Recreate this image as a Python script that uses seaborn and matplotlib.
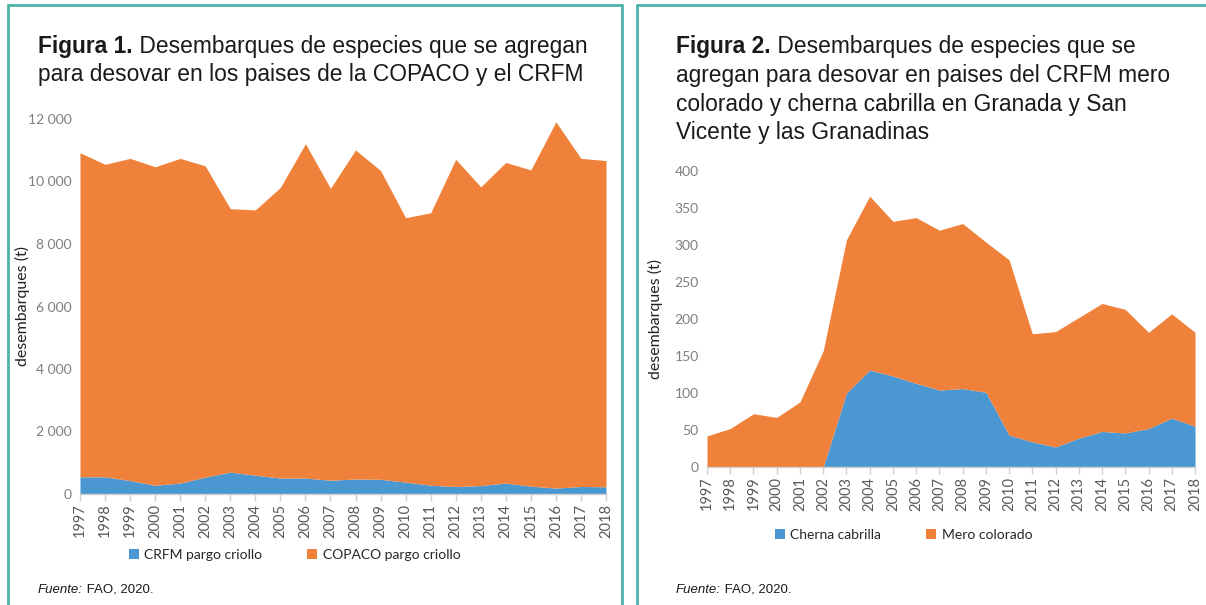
import matplotlib
matplotlib.use("Agg")
import matplotlib.pyplot as plt
from matplotlib.patches import Patch
from matplotlib.lines import Line2D
from matplotlib.ticker import FuncFormatter
import seaborn as sns

# --- data ---
years = list(range(1997, 2019))

# Figura 1 (t)
crfm_pargo = [550, 550, 430, 280, 350, 540, 700, 600, 510, 510, 440,
              480, 470, 380, 280, 240, 270, 350, 250, 190, 240, 230]
total_fig1 = [10920, 10550, 10740, 10470, 10740, 10500, 9130, 9090, 9810, 11210, 9780,
              11010, 10350, 8840, 9000, 10710, 9830, 10610, 10370, 11910, 10740, 10670]
copaco_pargo = [t - c for t, c in zip(total_fig1, crfm_pargo)]

# Figura 2 (t)
cherna = [0, 0, 0, 0, 0, 0, 100, 131, 123, 113, 104,
          106, 101, 43, 34, 27, 39, 48, 46, 52, 66, 55]
total_fig2 = [42, 52, 72, 67, 88, 157, 307, 366, 332, 337, 320,
              329, 304, 280, 180, 183, 202, 221, 213, 182, 207, 182]
mero = [t - c for t, c in zip(total_fig2, cherna)]

labels1 = ["CRFM pargo criollo", "COPACO pargo criollo"]
labels2 = ["Cherna cabrilla", "Mero colorado"]

sns.set_theme(style="white")
plt.rcParams["font.family"] = ["Liberation Sans", "DejaVu Sans"]

BLUE = "#4A97D1"
ORANGE = "#EF813B"
TEAL = "#4DB2A9"
TICKFONT = ["Lato", "DejaVu Sans"]

W, H = 1206, 605
fig = plt.figure(figsize=(W / 100, H / 100), dpi=100)


def fx(px):
    return px / W


def fy(py):
    return 1 - py / H


def space_thousands(v, pos):
    return f"{int(v):,}".replace(",", " ")


def make_panel(x0, x1, ytop, ybot, series, labels, ymax, ystep, fmt, label_x):
    ax = fig.add_axes([fx(x0), fy(ybot), fx(x1) - fx(x0), (ybot - ytop) / H])
    ax.stackplot(years, *series, colors=[BLUE, ORANGE], labels=labels, linewidth=0)
    ax.set_xlim(years[0], years[-1])
    ax.set_ylim(0, ymax)
    ax.set_xticks(years)
    ax.set_xticklabels([str(y) for y in years], rotation=90, fontsize=10.5,
                       color="#595959", family=TICKFONT)
    ax.set_yticks(range(0, ymax + 1, ystep))
    ax.yaxis.set_major_formatter(FuncFormatter(fmt))
    for t in ax.get_yticklabels():
        t.set_fontsize(10)
        t.set_color("#7F7F7F")
        t.set_family(TICKFONT)
    sns.despine(ax=ax, left=True, top=True, right=True)
    ax.spines["bottom"].set_color("#D0D0D0")
    ax.spines["bottom"].set_linewidth(1)
    ax.tick_params(axis="x", which="major", bottom=True, length=5, width=1,
                   color="#D0D0D0", pad=2)
    ax.tick_params(axis="y", length=0, pad=6)
    ax.set_ylabel("desembarques (t)", fontsize=11.5, family=TICKFONT, color="#222222")
    ax.yaxis.set_label_coords((fx(label_x) - fx(x0)) / (fx(x1) - fx(x0)), 0.5)
    ax.grid(False)
    return ax


ax1 = make_panel(80, 606, 119, 494, [crfm_pargo, copaco_pargo], labels1,
                 12000, 2000, space_thousands, 30)
ax2 = make_panel(707, 1195, 171, 467, [cherna, mero], labels2,
                 400, 50, lambda v, p: f"{int(v)}", 663)

# legends
handles = [Patch(facecolor=BLUE, edgecolor="none"), Patch(facecolor=ORANGE, edgecolor="none")]
for lab, lx, ly in [(labels1, 116, 555), (labels2, 762, 535)]:
    fig.legend(handles, lab, loc="center left", bbox_to_anchor=(fx(lx), fy(ly)),
               ncol=2, frameon=False, handlelength=0.75, handleheight=0.75,
               handletextpad=0.4, columnspacing=3.2,
               prop={"family": TICKFONT, "size": 10})

# titles with bold "Figura n." prefix
TSIZE = 16.4


def title_lines(x, first_bold, first_rest, other_lines, y0, dy):
    t = fig.text(fx(x), fy(y0), first_bold, fontsize=TSIZE, fontweight="bold",
                 color="#1A1A1A", va="center")
    ax1.annotate(first_rest, xy=(1, 0.5), xycoords=t, va="center", ha="left",
                 fontsize=TSIZE, color="#1A1A1A", annotation_clip=False)
    for i, line in enumerate(other_lines, start=1):
        fig.text(fx(x), fy(y0 + i * dy), line, fontsize=TSIZE, color="#1A1A1A", va="center")


title_lines(38, "Figura 1.", " Desembarques de especies que se agregan",
            ["para desovar en los paises de la COPACO y el CRFM"], 47, 28)
title_lines(676, "Figura 2.", " Desembarques de especies que se",
            ["agregan para desovar en paises del CRFM mero",
             "colorado y cherna cabrilla en Granada y San",
             "Vicente y las Granadinas"], 47, 28.5)

# source notes
for x in (38, 676):
    s = fig.text(fx(x), fy(590), "Fuente:", fontsize=9.5, fontstyle="italic",
                 color="#1A1A1A", va="center")
    ax1.annotate(" FAO, 2020.", xy=(1, 0.5), xycoords=s, va="center", ha="left",
                 fontsize=9.5, color="#1A1A1A", annotation_clip=False)

# teal panel borders
lw = 2
for xl, xr in [(8, 622), (637, 1210)]:
    fig.add_artist(Line2D([fx(xl), fx(xl)], [fy(5), fy(610)], color=TEAL, lw=lw))
    fig.add_artist(Line2D([fx(xl), fx(xr)], [fy(5), fy(5)], color=TEAL, lw=lw))
    if xr < W:
        fig.add_artist(Line2D([fx(xr), fx(xr)], [fy(5), fy(610)], color=TEAL, lw=lw))

fig.savefig("out.png", dpi=100)
